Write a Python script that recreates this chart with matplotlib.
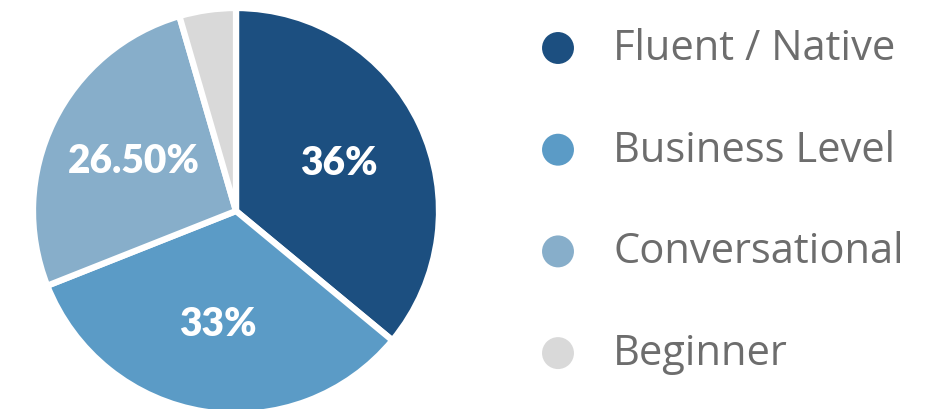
import matplotlib.pyplot as plt

categories = ['Fluent / Native', 'Business Level', 'Conversational', 'Beginner']
shares = [36, 33, 26.5, 4.5]
pct_labels = ['36%', '33%', '26.50%', '']
colors = ['#1c4f80', '#5b9bc6', '#87aeca', '#d9d9d9']

fig = plt.figure(figsize=(9.42, 4.10), dpi=100)

# pie: centre ~ (236, 212) px, radius ~202 px
r_w = 203 / 942
r_h = 203 / 410
cx, cy = 236 / 942, (410 - 212) / 410
ax = fig.add_axes([cx - r_w, cy - r_h, 2 * r_w, 2 * r_h])
labels_iter = iter(pct_labels)
wedges, texts, autotexts = ax.pie(
    shares, colors=colors, startangle=90, counterclock=False,
    autopct=lambda p: next(labels_iter), pctdistance=0.56,
    wedgeprops=dict(edgecolor='white', linewidth=4.5),
    textprops=dict(color='white', fontsize=28, fontweight='heavy', family=['Lato', 'DejaVu Sans']))
ax.set_xlim(-1, 1)
ax.set_ylim(-1, 1)
ax.set_aspect('equal')
ax.axis('off')

# legend
lax = fig.add_axes([0, 0, 1, 1])
lax.set_xlim(0, 942)
lax.set_ylim(410, 0)
lax.axis('off')
ys = [49 + 101.7 * i for i in range(len(categories))]
lax.scatter([558] * len(categories), ys, s=31 ** 2 * 0.55, c=colors, linewidths=0)
for y, name in zip(ys, categories):
    lax.text(613, y, name, fontsize=30, color='#6d6d6d', va='center', ha='left',
             family=['Open Sans', 'DejaVu Sans'])

plt.savefig('out.png', dpi=100)
